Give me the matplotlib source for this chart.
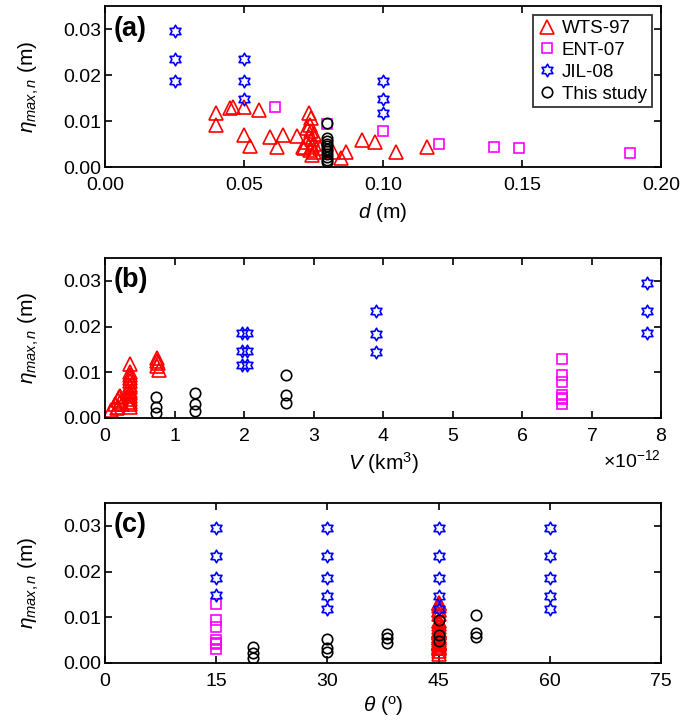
import numpy as np
import matplotlib
matplotlib.use('Agg')
import matplotlib.pyplot as plt
from matplotlib.path import Path
from matplotlib.ticker import FormatStrFormatter, ScalarFormatter

plt.rcParams['font.family'] = ['Liberation Sans', 'DejaVu Sans']
plt.rcParams['mathtext.fontset'] = 'custom'
plt.rcParams['mathtext.rm'] = 'Liberation Sans'
plt.rcParams['mathtext.it'] = 'Liberation Sans:italic'
plt.rcParams['mathtext.bf'] = 'Liberation Sans:bold'

# ---- data ----
# WTS-97
wts_d = [0.040, 0.040, 0.045, 0.046, 0.050, 0.0555, 0.050, 0.052, 0.0595, 0.062,
         0.064, 0.069, 0.0713, 0.0735, 0.074, 0.0737, 0.0728, 0.0742, 0.075, 0.0735,
         0.0745, 0.0726, 0.0752, 0.0743, 0.0715, 0.075, 0.0773, 0.082, 0.085, 0.0866,
         0.0926, 0.097, 0.1047, 0.116, 0.0745, 0.0738]
wts_eta = [0.0117, 0.0091, 0.0129, 0.0131, 0.0131, 0.0125, 0.0070, 0.0046, 0.0066, 0.0043,
           0.0070, 0.0068, 0.0044, 0.0117, 0.0107, 0.0091, 0.0085, 0.0078, 0.0072, 0.0066,
           0.0060, 0.0055, 0.0050, 0.0046, 0.0041, 0.0033, 0.0041, 0.0033, 0.0019, 0.0032,
           0.0059, 0.0054, 0.0033, 0.0044, 0.0026, 0.0038]
wts_theta = [45] * len(wts_eta)
wts_v = [0.09, 0.15, 0.18, 0.20, 0.22, 0.19, 0.24, 0.17, 0.21,
         0.36, 0.36, 0.36, 0.36, 0.36, 0.36, 0.36, 0.36, 0.36, 0.36, 0.36, 0.36, 0.36, 0.36,
         0.75, 0.75, 0.76, 0.75, 0.77]
wts_v_eta = [0.0018, 0.0030, 0.0040, 0.0045, 0.0035, 0.0025, 0.0030, 0.0022, 0.0048,
             0.0118, 0.0101, 0.0094, 0.0087, 0.0080, 0.0073, 0.0067, 0.0060, 0.0054, 0.0048,
             0.0042, 0.0036, 0.0030, 0.0024,
             0.0131, 0.0125, 0.0120, 0.0113, 0.0106]

# ENT-07
ent_d = [0.061, 0.080, 0.100, 0.120, 0.140, 0.149, 0.189]
ent_eta = [0.0130, 0.0093, 0.0078, 0.0051, 0.0044, 0.0042, 0.0031]
ent_v = [6.57] * len(ent_eta)
ent_theta = [15] * len(ent_eta)

# JIL-08
jil_d = [0.025, 0.025, 0.025, 0.05, 0.05, 0.05, 0.10, 0.10, 0.10]
jil_d_eta = [0.0296, 0.0234, 0.0186, 0.0234, 0.0186, 0.0148, 0.0186, 0.0148, 0.0117]
jil_v = [7.8, 7.8, 7.8, 3.9, 3.9, 3.9, 1.97, 1.97, 1.97, 2.04, 2.04, 2.04]
jil_v_eta = [0.0296, 0.0234, 0.0185, 0.0233, 0.0184, 0.0145,
             0.0185, 0.0147, 0.0116, 0.0185, 0.0147, 0.0116]
jil_theta = [15, 15, 15, 15, 30, 30, 30, 30, 30, 45, 45, 45, 45, 45, 60, 60, 60, 60, 60]
jil_theta_eta = [0.0296, 0.0233, 0.0185, 0.0148,
                 0.0296, 0.0233, 0.0185, 0.0147, 0.0118,
                 0.0296, 0.0233, 0.0185, 0.0147, 0.0118,
                 0.0296, 0.0233, 0.0185, 0.0147, 0.0118]

# This study
ts_d = [0.080] * 11
ts_d_eta = [0.0095, 0.0062, 0.0056, 0.0050, 0.0045, 0.0040, 0.0034, 0.0028, 0.0022, 0.0016, 0.0011]
ts_v = [0.74, 0.74, 0.74, 1.29, 1.29, 1.29, 2.6, 2.6, 2.6]
ts_v_eta = [0.0045, 0.0023, 0.0010, 0.0054, 0.0030, 0.0016, 0.0093, 0.0050, 0.0033]
ts_theta = [20, 20, 20, 30, 30, 30, 38, 38, 38, 45, 45, 45, 50, 50, 50]
ts_theta_eta = [0.0034, 0.0021, 0.0012, 0.0052, 0.0032, 0.0025, 0.0063, 0.0054, 0.0043,
                0.0095, 0.0061, 0.0049, 0.0106, 0.0065, 0.0057]

# hexagram marker (MATLAB style)
hexagram = Path.unit_regular_star(6, 0.577)

styles = {
    'WTS-97': dict(marker='^', color='#ff0000', ms=9.5),
    'ENT-07': dict(marker='s', color='#ff00ff', ms=6.5),
    'JIL-08': dict(marker=hexagram, color='#0000ff', ms=9),
    'This study': dict(marker='o', color='black', ms=7.5),
}


def draw(ax, name, x, y):
    st = styles[name]
    ax.plot(x, y, linestyle='none', marker=st['marker'], ms=st['ms'],
            mec=st['color'], mfc='none', mew=1.2, label=name)


def style_axes(ax, label):
    ax.set_ylim(0, 0.035)
    ax.set_yticks([0, 0.01, 0.02, 0.03])
    ax.yaxis.set_major_formatter(FormatStrFormatter('%.2f'))
    ax.tick_params(direction='in', top=True, right=True, length=5, width=1.2,
                   labelsize=14)
    ax.tick_params(axis='x', pad=7)
    ax.tick_params(axis='y', pad=3)
    for sp in ax.spines.values():
        sp.set_linewidth(1.3)
    ax.set_ylabel(r'$\eta_{max,n}$ (m)', fontsize=15, labelpad=16)
    ax.text(0.016, 0.86, label, transform=ax.transAxes, fontsize=19.5,
            fontweight='bold', ha='left', va='center')


fig = plt.figure(figsize=(6.85, 7.23), dpi=100)
ax1 = fig.add_axes([0.1533, 0.769, 0.8117, 0.2227])
ax2 = fig.add_axes([0.1533, 0.4219, 0.8117, 0.2213])
ax3 = fig.add_axes([0.1533, 0.083, 0.8117, 0.2213])

# (a) eta vs d
draw(ax1, 'WTS-97', wts_d, wts_eta)
draw(ax1, 'ENT-07', ent_d, ent_eta)
draw(ax1, 'JIL-08', jil_d, jil_d_eta)
draw(ax1, 'This study', ts_d, ts_d_eta)
ax1.set_xlim(0, 0.2)
ax1.set_xticks([0, 0.05, 0.10, 0.15, 0.20])
ax1.xaxis.set_major_formatter(FormatStrFormatter('%.2f'))
style_axes(ax1, '(a)')
ax1.set_xlabel(r'$d$ (m)', fontsize=15, labelpad=5)
leg = ax1.legend(loc='upper right', fontsize=13.5, frameon=True, fancybox=False,
                 edgecolor='black', borderaxespad=0.5, handletextpad=0.3,
                 labelspacing=0.25, borderpad=0.25, handlelength=1.0)
leg.get_frame().set_linewidth(1.3)

# (b) eta vs V
draw(ax2, 'WTS-97', np.array(wts_v) * 1e-12, wts_v_eta)
draw(ax2, 'ENT-07', np.array(ent_v) * 1e-12, ent_eta)
draw(ax2, 'JIL-08', np.array(jil_v) * 1e-12, jil_v_eta)
draw(ax2, 'This study', np.array(ts_v) * 1e-12, ts_v_eta)
ax2.set_xlim(0, 8e-12)
ax2.set_xticks(np.arange(0, 9) * 1e-12)
fmt = ScalarFormatter(useMathText=True)
ax2.xaxis.set_major_formatter(fmt)
style_axes(ax2, '(b)')
ax2.xaxis.get_offset_text().set_fontsize(14)
ax2.set_xlabel(r'$V$ (km$^3$)', fontsize=15, labelpad=4)

# (c) eta vs theta
draw(ax3, 'WTS-97', wts_theta, wts_eta)
draw(ax3, 'ENT-07', ent_theta, ent_eta)
draw(ax3, 'JIL-08', jil_theta, jil_theta_eta)
draw(ax3, 'This study', ts_theta, ts_theta_eta)
ax3.set_xlim(0, 75)
ax3.set_xticks([0, 15, 30, 45, 60, 75])
style_axes(ax3, '(c)')
ax3.set_xlabel(r'$\theta$ ($^\mathrm{o}$)', fontsize=15, labelpad=3)

fig.savefig('out.png', dpi=100)
